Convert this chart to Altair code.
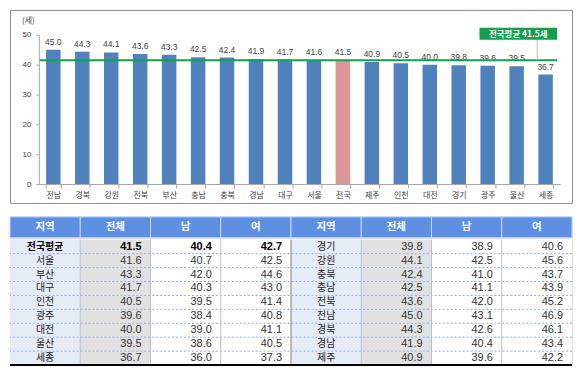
import altair as alt
import pandas as pd

# ---------------- data ----------------
bar_regions = ["전남", "경북", "강원", "전북", "부산", "충남", "충북", "경남", "대구",
               "서울", "전국", "제주", "인천", "대전", "경기", "광주", "울산", "세종"]
bar_values = [45.0, 44.3, 44.1, 43.6, 43.3, 42.5, 42.4, 41.9, 41.7,
              41.6, 41.5, 40.9, 40.5, 40.0, 39.8, 39.6, 39.5, 36.7]
national_avg = 41.5
y_ticks = [0, 10, 20, 30, 40, 50]

header_labels = ["지역", "전체", "남", "여"]

left_regions = ["전국평균", "서울", "부산", "대구", "인천", "광주", "대전", "울산", "세종"]
left_total = [41.5, 41.6, 43.3, 41.7, 40.5, 39.6, 40.0, 39.5, 36.7]
left_male = [40.4, 40.7, 42.0, 40.3, 39.5, 38.4, 39.0, 38.6, 36.0]
left_female = [42.7, 42.5, 44.6, 43.0, 41.4, 40.8, 41.1, 40.5, 37.3]

right_regions = ["경기", "강원", "충북", "충남", "전북", "전남", "경북", "경남", "제주"]
right_total = [39.8, 44.1, 42.4, 42.5, 43.6, 45.0, 44.3, 41.9, 40.9]
right_male = [38.9, 42.5, 41.0, 41.1, 42.0, 43.1, 42.6, 40.4, 39.6]
right_female = [40.6, 45.6, 43.7, 43.9, 45.2, 46.9, 46.1, 43.4, 42.2]

# ---------------- layout ----------------
W = 565
H_TOP = 194
KR = "Noto Sans CJK KR"
LAT = "Liberation Sans"

bars_df = pd.DataFrame({"region": bar_regions, "age": bar_values})

x_scale = alt.Scale(domain=bar_regions, range=[29, 553], paddingInner=0.5, paddingOuter=0.25)
y_scale = alt.Scale(domain=[0, 50], range=[175, 25], nice=False, zero=True)

x_axis = alt.Axis(title=None, offset=-19, tickBand="extent", labelAngle=0,
                  labelFont=KR, labelFontSize=8, labelColor="#404040",
                  domainColor="#a6a6a6", tickColor="#a6a6a6", tickSize=4,
                  labelPadding=4, labelOverlap=False)
y_axis = alt.Axis(title="(세)", values=y_ticks, tickCount=6, offset=-29, grid=False,
                  labelOverlap=False, labelFlush=False,
                  domainColor="#a6a6a6", tickColor="#a6a6a6", tickSize=3,
                  labelPadding=5, labelFont=LAT, labelFontSize=8,
                  labelColor="#404040", titleAngle=0, titleFont=KR,
                  titleFontSize=8, titleFontWeight="normal", titleColor="#404040",
                  titleX=-11, titleY=11, titleAlign="center",
                  titleBaseline="middle")

x_enc = alt.X("region:N", scale=x_scale, sort=None, axis=x_axis)
y_enc = alt.Y("age:Q", scale=y_scale, axis=y_axis)

base = alt.Chart(bars_df)
bars = base.mark_bar().encode(
    x=x_enc, y=y_enc,
    color=alt.condition(alt.datum.region == "전국", alt.value("#d99694"), alt.value("#4f81bd")),
)
labels = base.mark_text(baseline="bottom", dy=-3, fontSize=8.5, font=LAT, color="#404040").encode(
    x=x_enc, y=y_enc,
    text=alt.Text("age:Q", format=".1f"),
)

avg_df = pd.DataFrame({"avg": [national_avg], "label": [f"전국평균 {national_avg}세"]})
avg_y = alt.Y("avg:Q", scale=y_scale, axis=y_axis)
avg_line = alt.Chart(avg_df).mark_rule(color="#12a04c", strokeWidth=2).encode(
    y=avg_y, x=alt.value(30), x2=alt.value(550))
ann_conn = alt.Chart(avg_df).mark_rule(color="#9ccfa9", strokeWidth=1).encode(
    y=avg_y, y2=alt.value(30), x=alt.value(530))
ann_box = alt.Chart(avg_df).mark_rect(color="#12a04c").encode(
    x=alt.value(472), x2=alt.value(550), y=alt.value(18), y2=alt.value(30))
ann_text = alt.Chart(avg_df).mark_text(color="white", fontWeight="bold", fontSize=8.5, font=KR).encode(
    x=alt.value(511), y=alt.value(24), text="label:N")

top = alt.layer(bars, labels, avg_line, ann_conn, ann_box, ann_text).properties(
    width=W, height=H_TOP,
    view=alt.ViewBackground(stroke="#8c8c8c", strokeWidth=1),
)

# ---------------- table ----------------
col_scale = alt.Scale(domain=list(range(8)), paddingInner=0, paddingOuter=0)
row_scale = alt.Scale(domain=list(range(9)), paddingInner=0, paddingOuter=0)

hdr_df = pd.DataFrame({"col": list(range(8)), "label": header_labels * 2})
hdr_rect = alt.Chart(hdr_df).mark_rect(fill="#5d8fe3", stroke="#c9d8f2", strokeWidth=1).encode(
    x=alt.X("col:O", scale=col_scale, axis=None))
hdr_text = alt.Chart(hdr_df).mark_text(color="white", fontSize=10.5, fontWeight="bold", font=KR).encode(
    x=alt.X("col:O", scale=col_scale, axis=None), text="label:N")
header = alt.layer(hdr_rect, hdr_text).properties(width=W, height=21)

cells = []
for side, (regs, tot, mal, fem) in enumerate([
        (left_regions, left_total, left_male, left_female),
        (right_regions, right_total, right_male, right_female)]):
    for r in range(9):
        bold = "y" if (side == 0 and r == 0) else "n"
        cells.append({"row": r, "col": side * 4, "kind": "region", "label": regs[r], "val": None, "bold": bold})
        for k, arr in enumerate([tot, mal, fem]):
            cells.append({"row": r, "col": side * 4 + 1 + k, "kind": "total" if k == 0 else "sex",
                          "label": "", "val": arr[r], "bold": bold})
cells_df = pd.DataFrame(cells)

bx = alt.X("col:O", scale=col_scale, axis=None)
by = alt.Y("row:O", scale=row_scale, axis=None)

body_base = alt.Chart(cells_df)
cell_rect = body_base.mark_rect().encode(
    x=bx, y=by,
    color=alt.Color("kind:N", scale=alt.Scale(domain=["region", "total", "sex"],
                                              range=["#e6ecf6", "#e1e1e1", "#ffffff"]), legend=None))

rows_df = pd.DataFrame({"row": list(range(9))})
hlines = alt.Chart(rows_df).transform_filter(alt.datum.row < 8).mark_rule(
    color="#8eaadb", strokeDash=[2, 2], strokeWidth=1).encode(
    y=alt.Y("row:O", scale=row_scale, axis=None, bandPosition=1))
bottom_line = alt.Chart(rows_df).transform_filter(alt.datum.row == 8).mark_rule(
    color="#000000", strokeWidth=2).encode(
    y=alt.Y("row:O", scale=row_scale, axis=None, bandPosition=1))

cols_df = pd.DataFrame({"col": list(range(1, 8))})
vlines = alt.Chart(cols_df).mark_rule(strokeWidth=1).encode(
    x=alt.X("col:O", scale=col_scale, axis=None, bandPosition=0),
    color=alt.condition(alt.datum.col == 4, alt.value("#7f7f7f"), alt.value("#b4c0d4")))

name_norm = body_base.transform_filter((alt.datum.kind == "region") & (alt.datum.bold == "n")).mark_text(
    font=KR, fontSize=10, color="#1a1a1a").encode(x=bx, y=by, text="label:N")
name_bold = body_base.transform_filter((alt.datum.kind == "region") & (alt.datum.bold == "y")).mark_text(
    font=KR, fontSize=10, fontWeight="bold", color="#000000").encode(x=bx, y=by, text="label:N")

bx_r = alt.X("col:O", scale=col_scale, axis=None, bandPosition=1)
num_norm = body_base.transform_filter((alt.datum.kind != "region") & (alt.datum.bold == "n")).mark_text(
    font=LAT, fontSize=11, color="#333333", align="right", dx=-9).encode(
    x=bx_r, y=by, text=alt.Text("val:Q", format=".1f"))
num_bold = body_base.transform_filter((alt.datum.kind != "region") & (alt.datum.bold == "y")).mark_text(
    font=LAT, fontSize=11, fontWeight="bold", color="#000000", align="right", dx=-9).encode(
    x=bx_r, y=by, text=alt.Text("val:Q", format=".1f"))

body = alt.layer(cell_rect, hlines, vlines, bottom_line, name_norm, name_bold, num_norm, num_bold).properties(
    width=W, height=126)

table = alt.vconcat(header, body, spacing=0)

chart = alt.vconcat(top, table, spacing=12).properties(padding=0).configure_view(
    stroke="transparent").configure(background="white")

chart.save("out.html", embed_options={"renderer": "svg", "actions": False})
